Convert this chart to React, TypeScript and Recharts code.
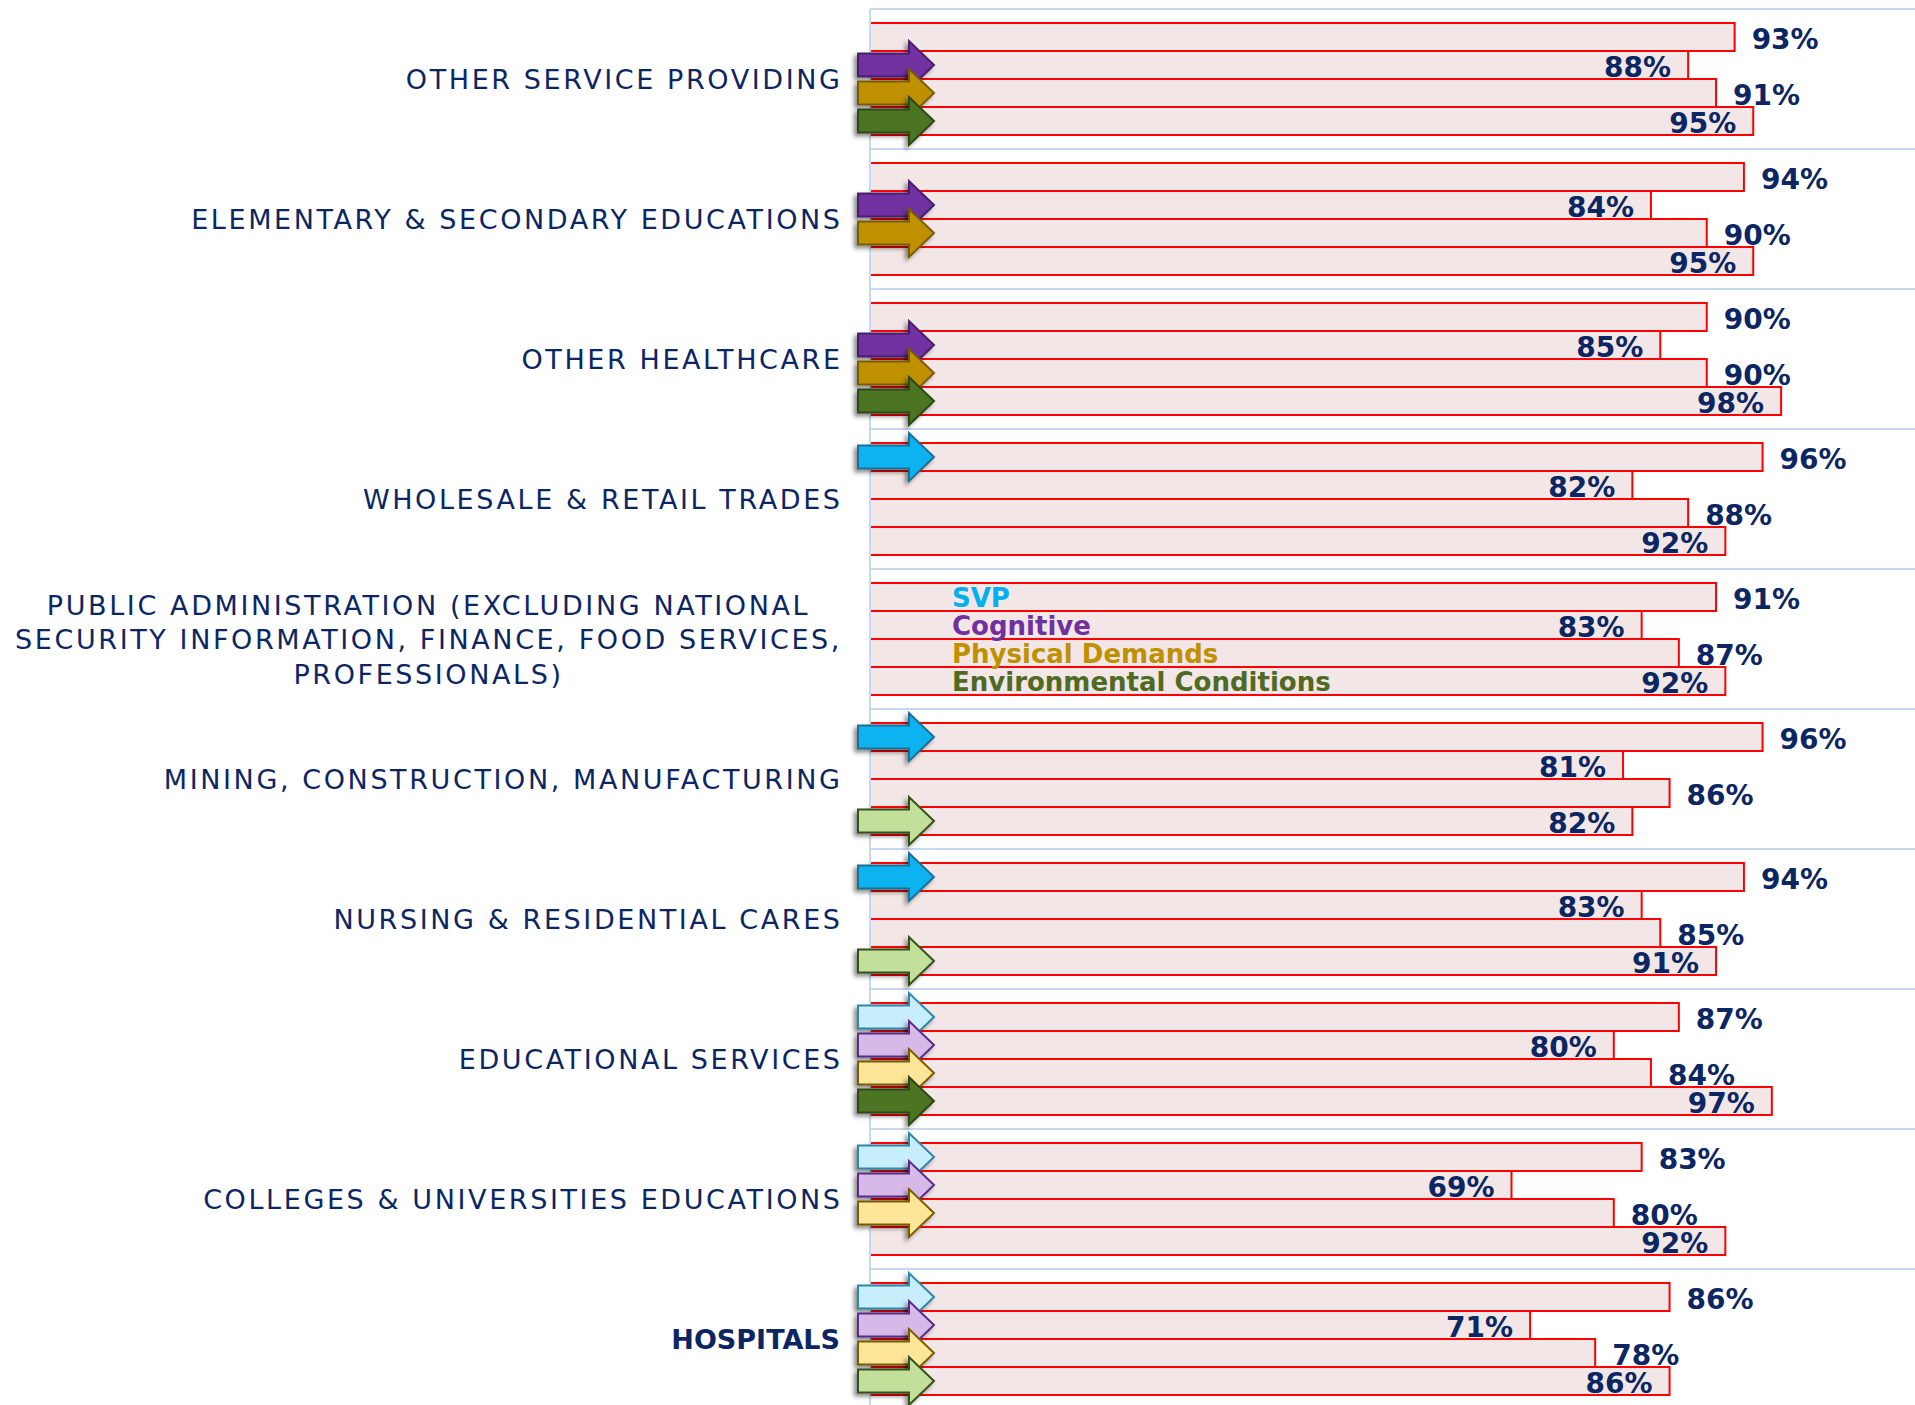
import React from 'react';
import { BarChart, Bar, XAxis, YAxis, CartesianGrid, LabelList } from 'recharts';

// Categories, top to bottom. "\n" marks a line break in the axis label.
const categories = [
  'OTHER SERVICE PROVIDING',
  'ELEMENTARY & SECONDARY EDUCATIONS',
  'OTHER HEALTHCARE',
  'WHOLESALE & RETAIL TRADES',
  'PUBLIC ADMINISTRATION (EXCLUDING NATIONAL\nSECURITY INFORMATION, FINANCE, FOOD SERVICES,\nPROFESSIONALS)',
  'MINING, CONSTRUCTION, MANUFACTURING',
  'NURSING & RESIDENTIAL CARES',
  'EDUCATIONAL SERVICES',
  'COLLEGES & UNIVERSITIES EDUCATIONS',
  'HOSPITALS',
];

const svp = [93, 94, 90, 96, 91, 96, 94, 87, 83, 86];
const cognitive = [88, 84, 85, 82, 83, 81, 83, 80, 69, 71];
const physical = [91, 90, 90, 88, 87, 86, 85, 84, 80, 78];
const environmental = [95, 95, 98, 92, 92, 82, 91, 97, 92, 86];

// arrow markers: H = dark arrow, L = light arrow, '' = none
const svpArrow = ['', '', '', 'H', '', 'H', 'H', 'L', 'L', 'L'];
const cognitiveArrow = ['H', 'H', 'H', '', '', '', '', 'L', 'L', 'L'];
const physicalArrow = ['H', 'H', 'H', '', '', '', '', 'L', 'L', 'L'];
const environmentalArrow = ['H', '', 'H', '', '', 'L', 'L', 'H', '', 'L'];

const seriesNames = ['SVP', 'Cognitive', 'Physical Demands', 'Environmental Conditions'];
const seriesKeys = ['svp', 'cognitive', 'physical', 'environmental'];
const legendCategory = 4; // the series names are written inside this group
const boldCategory = 'HOSPITALS';

const data = categories.map((name, i) => ({
  name,
  svp: svp[i],
  cognitive: cognitive[i],
  physical: physical[i],
  environmental: environmental[i],
  svpArrow: svpArrow[i],
  cognitiveArrow: cognitiveArrow[i],
  physicalArrow: physicalArrow[i],
  environmentalArrow: environmentalArrow[i],
}));

const seriesStyle = [
  { text: '#00B0F0', H: { fill: '#08B2F0', stroke: '#1D6F93' }, L: { fill: '#C8EEFB', stroke: '#2E87A8' } },
  { text: '#7030A0', H: { fill: '#7030A0', stroke: '#4A1E6C' }, L: { fill: '#D6B9E8', stroke: '#5C2A88' } },
  { text: '#BF9000', H: { fill: '#BF9000', stroke: '#7A5C00' }, L: { fill: '#FFE597', stroke: '#7A5C00' } },
  { text: '#4F6A22', H: { fill: '#4B7521', stroke: '#2E4714' }, L: { fill: '#C2E09A', stroke: '#34501A' } },
];

const NAVY = '#0C2663';
const GRID = '#C6D9F1';
const FONT = '"DejaVu Sans", Verdana, sans-serif';
const TICK_SIZE = 27;
const TICK_SPACING = 2.6;
const VALUE_SIZE = 28;

let measureCtx: CanvasRenderingContext2D | null = null;
const textWidth = (s: string) => {
  if (!measureCtx) measureCtx = document.createElement('canvas').getContext('2d');
  if (!measureCtx) return s.length * TICK_SIZE * 0.65;
  measureCtx.font = `${TICK_SIZE}px ${FONT}`;
  return measureCtx.measureText(s).width + TICK_SPACING * s.length;
};

const CategoryTick = (props: any) => {
  const { x, y, payload } = props;
  const value = String(payload.value);
  const lines = value.split('\n');
  const bold = value === boldCategory;
  const base = TICK_SIZE * 0.3645 + 0.5;
  const common = {
    fill: NAVY,
    fontFamily: FONT,
    fontSize: TICK_SIZE,
    fontWeight: bold ? 700 : 400,
    style: { letterSpacing: bold ? 0 : TICK_SPACING },
  };
  if (lines.length === 1) {
    return (
      <text x={x + (bold ? 0 : TICK_SPACING)} y={y + base} textAnchor="end" {...common}>
        {value}
      </text>
    );
  }
  const widest = Math.max(...lines.map(textWidth));
  const cx = x - widest / 2 + 2;
  const lineH = 34.3;
  return (
    <g>
      {lines.map((line, i) => (
        <text key={i} x={cx} y={y + base + (i - (lines.length - 1) / 2) * lineH} textAnchor="middle" {...common}>
          {line}
        </text>
      ))}
    </g>
  );
};

const box = (props: any) => {
  const vb = props.viewBox && props.viewBox.height !== undefined ? props.viewBox : props;
  return { x: Number(vb.x), y: Number(vb.y), width: Number(vb.width), height: Number(vb.height) };
};

// percentage labels: 1st and 3rd bar outside the end, 2nd and 4th inside the end
const makeValueLabel = (row: number) => (props: any) => {
  const { x, y, width, height } = box(props);
  const inside = row % 2 === 1;
  const end = x + width;
  return (
    <text
      x={inside ? end - 17 : end + 17}
      y={y + height / 2 + VALUE_SIZE * 0.3645 + 1.5}
      textAnchor={inside ? 'end' : 'start'}
      fill={NAVY}
      fontFamily={FONT}
      fontSize={VALUE_SIZE}
      fontWeight={700}
    >
      {`${props.value}%`}
    </text>
  );
};

const makeArrow = (row: number) => (props: any) => {
  const kind = props.value as 'H' | 'L' | '';
  if (kind !== 'H' && kind !== 'L') return null;
  const { x, y, height } = box(props);
  const cy = y + height / 2;
  const st = seriesStyle[row][kind];
  const d = [
    `M${x - 12},${cy - 11.5}`,
    `L${x + 39},${cy - 11.5}`,
    `L${x + 39},${cy - 24}`,
    `L${x + 64},${cy}`,
    `L${x + 39},${cy + 24}`,
    `L${x + 39},${cy + 11.5}`,
    `L${x - 12},${cy + 11.5}`,
    'Z',
  ].join(' ');
  return <path d={d} fill={st.fill} stroke={st.stroke} strokeWidth={2} strokeLinejoin="miter" filter="url(#arrowShadow)" />;
};

const makeLegendText = (row: number) => (props: any) => {
  if (props.index !== legendCategory) return null;
  const { x, y, height } = box(props);
  return (
    <text
      x={x + 82}
      y={y + height / 2 + 26 * 0.3645 + 0.5}
      fill={seriesStyle[row].text}
      fontFamily={FONT}
      fontSize={26}
      fontWeight={700}
    >
      {seriesNames[row]}
    </text>
  );
};

const App = () => {
  const n = categories.length;
  return (
    <div style={{ position: 'fixed', left: 0, top: 0, width: 1915, height: 1405, overflow: 'hidden', background: '#fff' }}>
      <BarChart
        width={1915}
        height={1420}
        data={data}
        layout="vertical"
        margin={{ top: 9, right: 0, bottom: 11, left: 0 }}
        barCategoryGap={14}
        barGap={0}
      >
        <defs>
          <filter id="arrowShadow" x="-30%" y="-40%" width="160%" height="180%">
            <feDropShadow dx="-3" dy="3" stdDeviation="2.2" floodColor="#000" floodOpacity="0.45" />
          </filter>
        </defs>
        <CartesianGrid
          vertical={false}
          stroke={GRID}
          strokeWidth={2}
          horizontalCoordinatesGenerator={({ offset }: any) =>
            Array.from({ length: n + 1 }, (_, k) => offset.top + (k * offset.height) / n)
          }
        />
        <XAxis type="number" domain={[0, 112.4]} hide />
        <YAxis
          type="category"
          dataKey="name"
          width={870}
          tickLine={false}
          tickSize={0}
          tickMargin={30}
          axisLine={{ stroke: GRID, strokeWidth: 2 }}
          tick={<CategoryTick />}
          interval={0}
        />
        {seriesKeys.map((key, row) => (
          <Bar
            key={key}
            dataKey={key}
            fill="#F2E6E6"
            stroke="#FF0000"
            strokeWidth={2}
            isAnimationActive={false}
          >
            <LabelList dataKey={key} content={makeValueLabel(row)} />
            <LabelList dataKey={key} content={makeLegendText(row)} />
            <LabelList dataKey={`${key}Arrow`} content={makeArrow(row)} />
          </Bar>
        ))}
      </BarChart>
    </div>
  );
};

export default App;
